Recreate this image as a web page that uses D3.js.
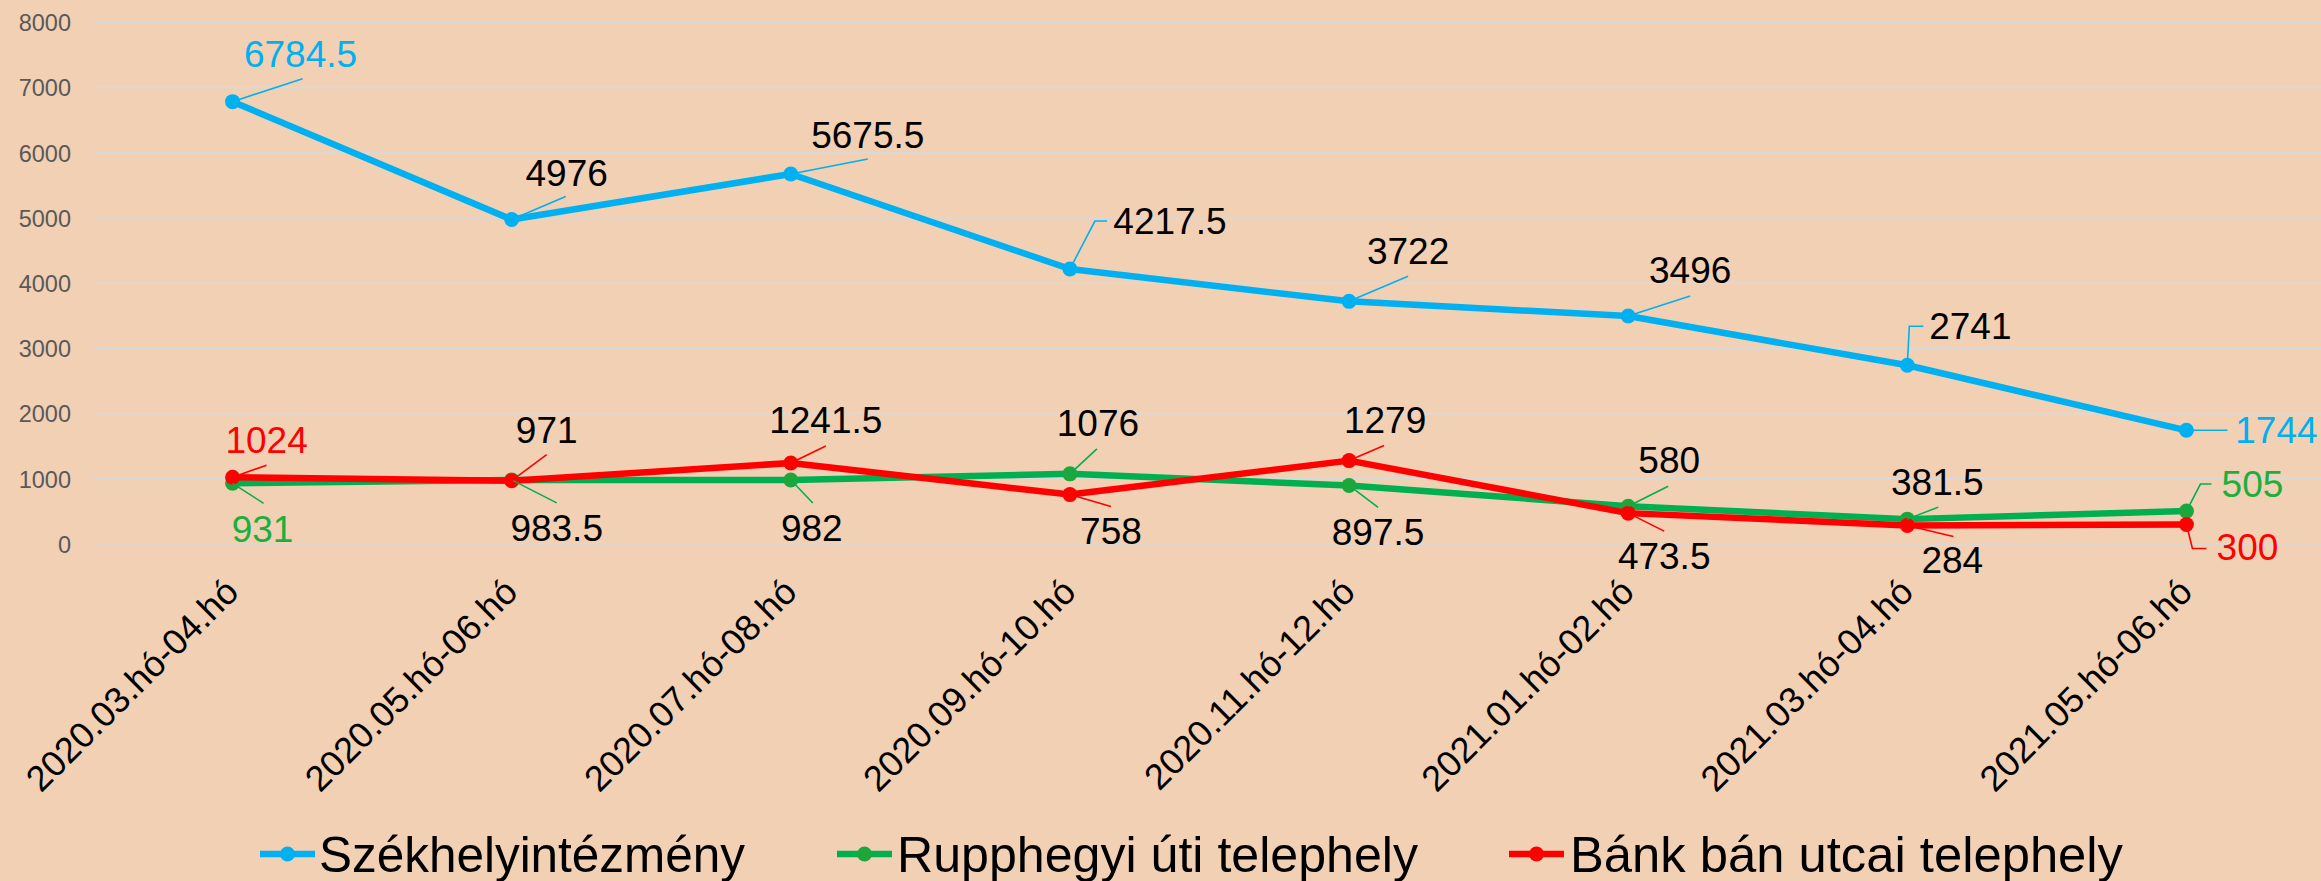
<!DOCTYPE html>
<html><head><meta charset="utf-8">
<script src="https://cdn.jsdelivr.net/npm/d3@7"></script>
<style>
html,body{margin:0;padding:0;background:#F2D0B4;}
svg{display:block;}
</style></head>
<body>
<svg id="chart" width="2321" height="881"></svg>
<script>
// ---- data ----
const categories = ["2020.03.hó-04.hó","2020.05.hó-06.hó","2020.07.hó-08.hó","2020.09.hó-10.hó","2020.11.hó-12.hó","2021.01.hó-02.hó","2021.03.hó-04.hó","2021.05.hó-06.hó"];
const seriesNames = ["Székhelyintézmény","Rupphegyi úti telephely","Bánk bán utcai telephely"];
const szekhely = [6784.5, 4976, 5675.5, 4217.5, 3722, 3496, 2741, 1744];
const rupphegyi = [931, 983.5, 982, 1076, 897.5, 580, 381.5, 505];
const bank = [1024, 971, 1241.5, 758, 1279, 473.5, 284, 300];
const yTicks = [0,1000,2000,3000,4000,5000,6000,7000,8000];

// ---- styling / layout (separate from data) ----
const colors = ["#00B0F0","#00B050","#FF0000"];
const markerColors = ["#00B0F0","#1FA63B","#FF0000"];
const labelColors = ["#00B0F0","#1DAF3E","#FF0000"];
// label offsets relative to point: [dx(center), dy(baseline)], leader path points relative to point
const labelLayout = [
  [ {l:[68,-35],p:[[70,-23]]}, {l:[55,-34],p:[[54,-23]]}, {l:[77,-26],p:[[77,-15]]}, {l:[100,-35],p:[[25,-48],[37,-48]]},
    {l:[59,-37],p:[[59,-25]]}, {l:[62,-33],p:[[62,-20]]}, {l:[63,-26],p:[[2,-39],[16,-39]]}, {l:[90,13],p:[[41,0]]} ],
  [ {l:[30,59],p:[[31,20]]}, {l:[45,61],p:[[45,23]]}, {l:[21,61],p:[[22,23]]}, {l:[28,-38],p:[[27,-25]]},
    {l:[29,60],p:[[29,22]]}, {l:[41,-33],p:[[40,-20]]}, {l:[30,-24],p:[[31,-12]]}, {l:[66,-14],p:[[14,-27],[25,-27]]} ],
  [ {l:[34,-24],p:[[34,-12]]}, {l:[35,-38],p:[[35,-26]]}, {l:[35,-30],p:[[35,-17]]}, {l:[41,49],p:[[41,12]]},
    {l:[36,-28],p:[[35,-15]]}, {l:[36,56],p:[[36,18]]}, {l:[45,48],p:[[46,11]]}, {l:[61,36],p:[[6,24],[20,24]]} ]
];

const svg = d3.select("#chart");
const font = "'Liberation Sans', Arial, sans-serif";

svg.append("rect").attr("width",2321).attr("height",881).attr("fill","#F2D0B4");

const x = d3.scalePoint().domain(categories).range([93, 2326]).padding(0.5);
const y = d3.scaleLinear().domain([0, 8000]).range([544, 22.4]);

// gridlines
svg.append("g").selectAll("line").data(yTicks).join("line")
  .attr("x1", 93).attr("x2", 2321)
  .attr("y1", d => y(d)).attr("y2", d => y(d))
  .attr("stroke", "#D9D9D9").attr("stroke-width", 1.6);

// y axis
const yAxis = d3.axisLeft(y).tickValues(yTicks).tickSize(0).tickPadding(0).tickFormat(d3.format("d"));
const yg = svg.append("g").attr("transform","translate(71,0)").call(yAxis);
yg.select(".domain").remove();
yg.selectAll("text").attr("font-family", font).attr("font-size", 23.5).attr("fill", "#595959").attr("dy","0.35em");

// x axis labels
const xAxis = d3.axisBottom(x).tickSize(0).tickPadding(0);
const xg = svg.append("g").call(xAxis);
xg.select(".domain").remove();
xg.selectAll(".tick").attr("transform", d => `translate(${x(d)+8},594)`);
xg.selectAll("text")
  .attr("font-family", font).attr("font-size", 36).attr("fill","#000")
  .attr("text-anchor","end").attr("dy", 0).attr("y", 0).attr("x", 0)
  .attr("transform","rotate(-45)");

const allSeries = [szekhely, rupphegyi, bank];
const line = d3.line().x((d,i) => x(categories[i])).y(d => y(d));

allSeries.forEach((vals, si) => {
  const g = svg.append("g");
  g.append("path").datum(vals).attr("d", line)
    .attr("fill","none").attr("stroke", colors[si]).attr("stroke-width", 6.5)
    .attr("stroke-linejoin","round").attr("stroke-linecap","round");
  g.selectAll("circle").data(vals).join("circle")
    .attr("cx",(d,i)=>x(categories[i])).attr("cy", d=>y(d)).attr("r", 7.5)
    .attr("fill", markerColors[si]);
});

// labels + leaders
allSeries.forEach((vals, si) => {
  const g = svg.append("g");
  vals.forEach((v, i) => {
    const px = x(categories[i]), py = y(v);
    const L = labelLayout[si][i];
    const pts = [[px,py]].concat(L.p.map(q => [px+q[0], py+q[1]]));
    g.append("path").attr("d", d3.line()(pts)).attr("fill","none")
      .attr("stroke", colors[si]).attr("stroke-width", 1.6);
    const edge = (i === 0 || i === vals.length-1);
    g.append("text").attr("x", px + L.l[0]).attr("y", py + L.l[1])
      .attr("text-anchor","middle").attr("font-family", font).attr("font-size", 37)
      .attr("fill", edge ? labelColors[si] : "#000")
      .text(d3.format("")(v));
  });
});

// legend
const legendItems = [
  {lx: 260, tx: 319, w: 426},
  {lx: 837, tx: 897, w: 521},
  {lx: 1509, tx: 1570, w: 553}
];
const lg = svg.append("g");
seriesNames.forEach((name, si) => {
  const it = legendItems[si];
  lg.append("line").attr("x1", it.lx).attr("x2", it.lx+55).attr("y1", 854).attr("y2", 854)
    .attr("stroke", colors[si]).attr("stroke-width", 6.5);
  lg.append("circle").attr("cx", it.lx+27.5).attr("cy", 854).attr("r", 7.5).attr("fill", markerColors[si]);
  lg.append("text").attr("x", it.tx).attr("y", 872).attr("font-family", font).attr("font-size", 50)
    .attr("fill","#000").attr("textLength", it.w).attr("lengthAdjust","spacingAndGlyphs").text(name);
});
</script>
</body></html>
